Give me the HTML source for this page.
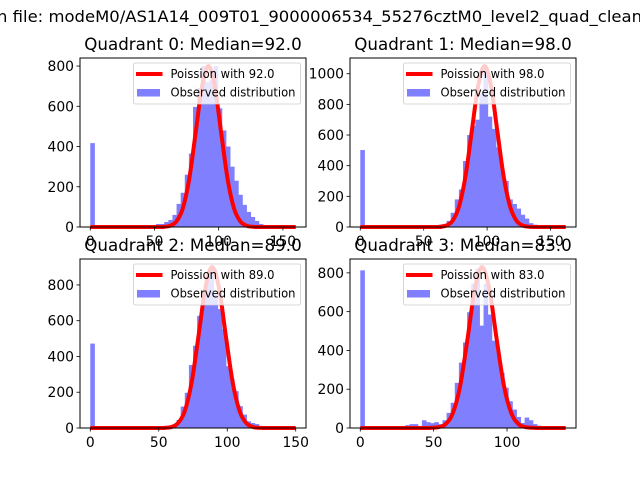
<!DOCTYPE html>
<html><head><meta charset="utf-8"><style>
body{margin:0;background:#fff}
svg{display:block;font-family:"DejaVu Sans","Liberation Sans",sans-serif}
</style></head><body>
<svg id="fig" width="640" height="480" viewBox="0 0 640 480">
<rect width="640" height="480" fill="#fff"/>
<text x="-3" y="22" font-size="16" textLength="645" lengthAdjust="spacingAndGlyphs">n file: modeM0/AS1A14_009T01_9000006534_55276cztM0_level2_quad_clean</text>
</svg>
<script>
// Quadrant 0
const q0Counts=[417,1,0,0,0,0,0,0,0,0,0,0,0,2,5,10,15,15,25,35,60,115,170,260,365,597,690,800,720,730,800,590,480,400,300,230,160,110,75,50,30,15,8,5,4,4,3,3,3,3];
const q0Curve=[0,0,1,6,27,91,236,465,698,800,698,465,236,91,27,6,1,0,0];
const q0CurveX=[0,52,57,62,67,72,77,82,87,92,97,102,107,112,117,122,127,132,160];
const q0Yticks=[0,200,400,600,800];
const q0Xticks=[0,50,100,150];
// Quadrant 1
const q1Counts=[502,0,0,0,0,0,0,0,0,0,0,5,5,5,8,10,10,8,10,15,20,40,93,180,245,430,600,660,700,870,1050,720,640,520,370,300,180,150,120,80,55,25,15,8,5,5,5,5,5,5];
const q1Curve=[0,0,2,10,43,137,333,630,924,1050,924,630,333,137,43,10,2,0,0];
const q1CurveX=[0,58,63,68,73,78,83,88,93,98,103,108,113,118,123,128,133,138,162];
const q1Yticks=[0,200,400,600,800,1000];
const q1Xticks=[0,50,100,150];
// Quadrant 2
const q2Counts=[472,0,0,0,0,0,0,0,0,0,0,0,0,0,8,8,8,8,12,15,20,45,120,197,352,460,627,760,850,900,750,665,552,346,272,206,122,75,37,28,22,3,3,3,3,3,3,3,3,3];
const q2Curve=[0,0,1,5,27,95,254,513,782,900,782,513,254,95,27,5,1,0,0];
const q2CurveX=[0,49,54,59,64,69,74,79,84,89,94,99,104,109,114,119,124,129,150];
const q2Yticks=[0,200,400,600,800];
const q2Xticks=[0,50,100,150];
// Quadrant 3
const q3Counts=[813,0,0,0,0,0,0,0,0,0,10,15,20,20,8,40,30,25,30,20,40,78,130,233,337,441,597,744,822,528,744,585,450,394,285,208,138,95,57,26,54,40,20,12,2,2,2,2,2,2];
const q3Curve=[0,0,1,4,19,75,214,455,714,830,714,455,214,75,19,4,1,0,0];
const q3CurveX=[0,43,48,53,58,63,68,73,78,83,88,93,98,103,108,113,118,123,140];
const q3Yticks=[0,200,400,600,800];
const q3Xticks=[0,50,100];

const quads=[
 {name:"Quadrant 0: Median=92.0",lam:"92.0",counts:q0Counts,curve:q0Curve,cx:q0CurveX,yt:q0Yticks,xt:q0Xticks,xmax:160,x:80,y:58},
 {name:"Quadrant 1: Median=98.0",lam:"98.0",counts:q1Counts,curve:q1Curve,cx:q1CurveX,yt:q1Yticks,xt:q1Xticks,xmax:162,x:350,y:58},
 {name:"Quadrant 2: Median=89.0",lam:"89.0",counts:q2Counts,curve:q2Curve,cx:q2CurveX,yt:q2Yticks,xt:q2Xticks,xmax:150,x:80,y:259},
 {name:"Quadrant 3: Median=83.0",lam:"83.0",counts:q3Counts,curve:q3Curve,cx:q3CurveX,yt:q3Yticks,xt:q3Xticks,xmax:140,x:350,y:259}
];
const NS="http://www.w3.org/2000/svg";
const fig=document.getElementById('fig');
function mk(tag,attrs,parent){const e=document.createElementNS(NS,tag);for(const k in attrs)e.setAttribute(k,attrs[k]);(parent||fig).appendChild(e);return e;}
const W=226,H=169;
quads.forEach((q,qi)=>{
 const g=mk('g',{});
 
 
 const ymaxData=Math.max(...q.counts,...q.curve)*1.05;
 const xlo=-0.05*q.xmax,xhi=1.05*q.xmax;
 const sx=v=>q.x+(v-xlo)/(xhi-xlo)*W;
 const sy=v=>q.y+H-v/ymaxData*H;
 const bw=q.xmax/q.counts.length;
 q.counts.forEach((c,i)=>{
  if(c<=0)return;
  const r=mk('rect',{x:sx(i*bw),y:sy(c),width:sx((i+1)*bw)-sx(i*bw)+0.5,height:sy(0)-sy(c),fill:'#8080ff'},g);
  
  
 });
 const pts=q.cx.map((x,i)=>[sx(x),sy(q.curve[i])]);
 let d='M'+pts[0][0]+','+pts[0][1];
 for(let i=0;i<pts.length-1;i++){
  const p0=pts[Math.max(i-1,0)],p1=pts[i],p2=pts[i+1],p3=pts[Math.min(i+2,pts.length-1)];
  const c1=[p1[0]+(p2[0]-p0[0])/6,p1[1]+(p2[1]-p0[1])/6];
  const c2=[p2[0]-(p3[0]-p1[0])/6,p2[1]-(p3[1]-p1[1])/6];
  d+=` C${c1[0]},${c1[1]} ${c2[0]},${c2[1]} ${p2[0]},${p2[1]}`;
 }
 const pl=mk('path',{d:d,fill:'none',stroke:'#ff0000','stroke-width':4,'stroke-linejoin':'round'},g);
 
 
 const fr=mk('rect',{x:q.x,y:q.y,width:W,height:H,fill:'none',stroke:'#000','stroke-width':1},g);
 
 
 q.yt.forEach(t=>{
  const y=sy(t);
  mk('line',{x1:q.x-3.5,x2:q.x,y1:y,y2:y,stroke:'#000','stroke-width':0.8},g);
  const tx=mk('text',{x:q.x-6,y:y+5,'font-size':13.9,'text-anchor':'end'},g);
  tx.textContent=t;
  
  
 });
 q.xt.forEach(t=>{
  const x=sx(t);
  mk('line',{x1:x,x2:x,y1:q.y+H,y2:q.y+H+3.5,stroke:'#000','stroke-width':0.8},g);
  const tx=mk('text',{x:x,y:q.y+H+19,'font-size':13.9,'text-anchor':'middle'},g);
  tx.textContent=t;
  
  
 });
 const ti=mk('text',{x:q.x+W/2,y:q.y-8,'font-size':16.7,'text-anchor':'middle'},g);
 ti.textContent=q.name;
 
 
 const lg=mk('g',{},g);
 
 
 const lx=q.x+W-172.5,ly=q.y+5;
 mk('rect',{x:lx,y:ly,width:167,height:41,rx:2,fill:'#fff','fill-opacity':0.8,stroke:'#ccc','stroke-width':0.8},lg);
 mk('line',{x1:lx+2.5,x2:lx+29,y1:ly+11,y2:ly+11,stroke:'#ff0000','stroke-width':4},lg);
 mk('rect',{x:lx+3.5,y:ly+26,width:23,height:7.5,fill:'#0000ff','fill-opacity':0.5},lg);
 const t1=mk('text',{x:lx+37,y:ly+15,'font-size':12,textLength:104,lengthAdjust:'spacingAndGlyphs'},lg);
 t1.textContent='Poission with '+q.lam;
 
 
 const t2=mk('text',{x:lx+37,y:ly+33.5,'font-size':12,textLength:125,lengthAdjust:'spacingAndGlyphs'},lg);
 t2.textContent='Observed distribution';
 
 
});
</script>
</body></html>
